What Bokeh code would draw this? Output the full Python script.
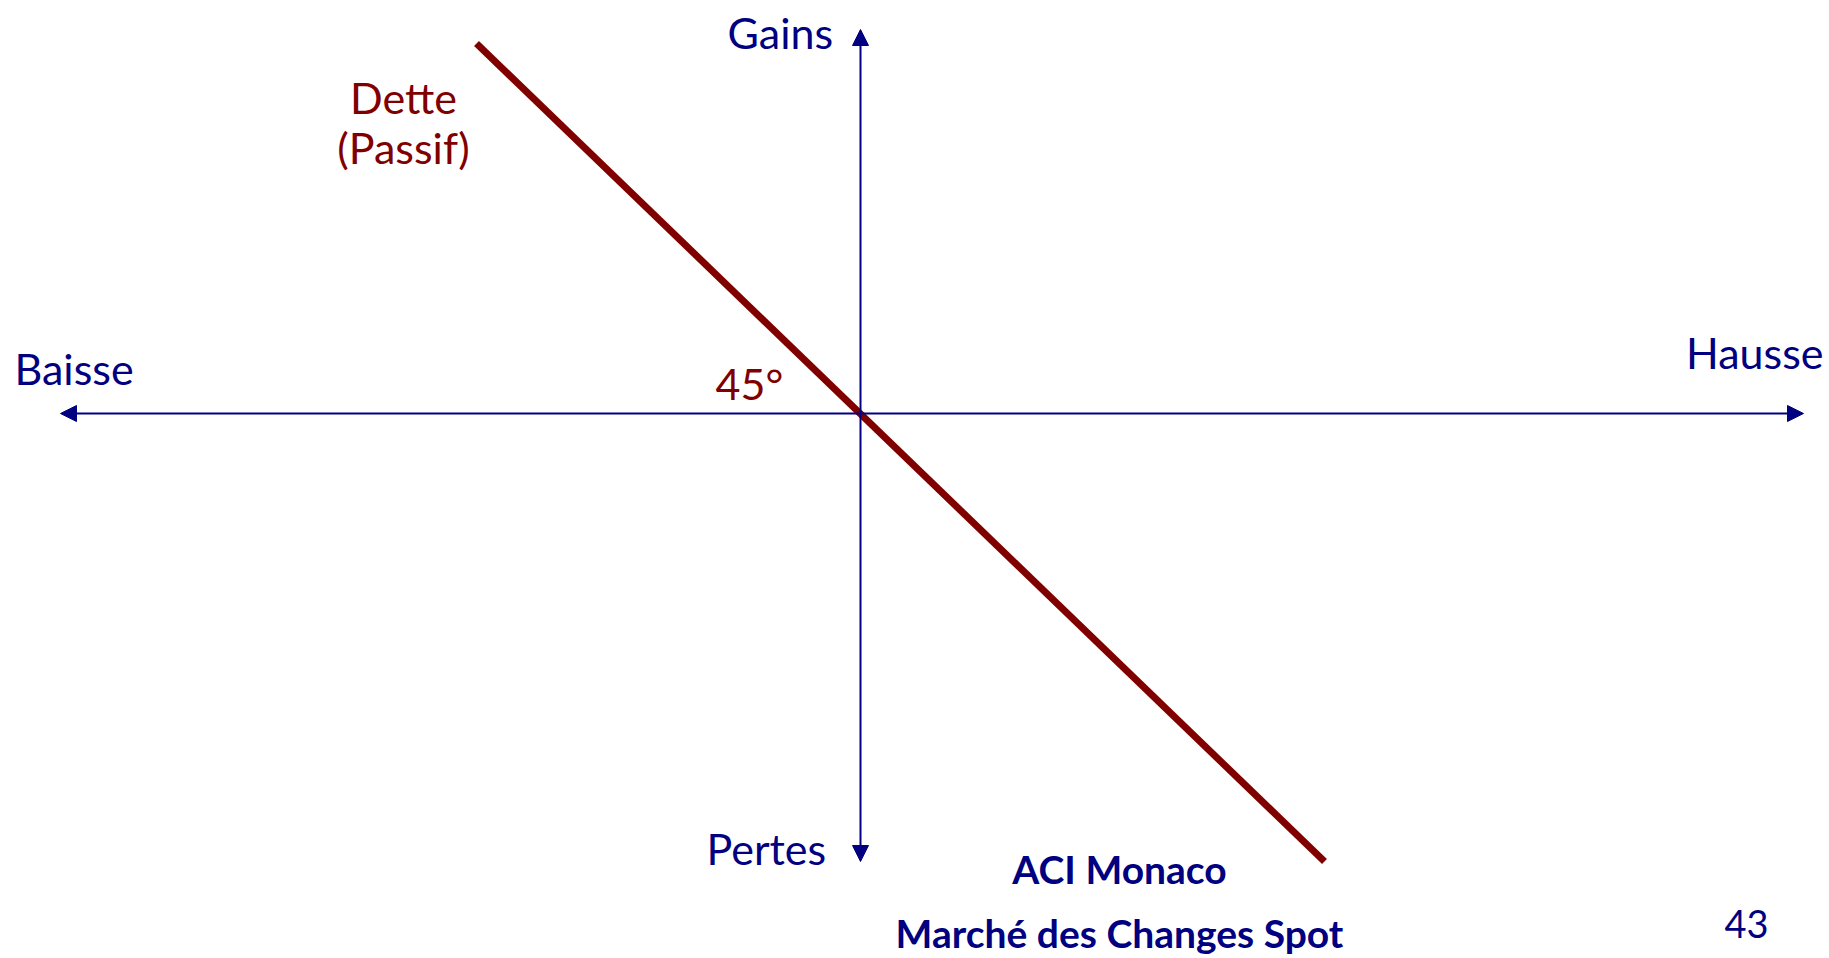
from bokeh.plotting import figure
from bokeh.models import Range1d, Arrow, NormalHead
from bokeh.core.properties import value
from bokeh.embed import file_html
from bokeh.resources import INLINE

# Payoff of a debt (liability): 45-degree line through the origin
payoff_x = [-384, 464]
payoff_y = [370, -448]

axis_labels = ["Gains", "Pertes", "Baisse", "Hausse"]
curve_label = ["Dette", "(Passif)"]
angle_label = "45°"
footer = ["ACI Monaco", "Marché des Changes Spot"]
page_number = "43"

NAVY = "#000080"
RED = "#800000"
FONT = "Lato"
DY = 15  # baseline correction

p = figure(width=1829, height=958, output_backend="svg", toolbar_location=None,
           x_range=Range1d(-860, 969), y_range=Range1d(-545, 413),
           min_border=0, background_fill_color="white", border_fill_color="white")
p.axis.visible = False
p.grid.visible = False
p.outline_line_color = None

# axes with arrows
p.add_layout(Arrow(start=NormalHead(size=16, fill_color=NAVY, line_color=NAVY),
                   end=NormalHead(size=16, fill_color=NAVY, line_color=NAVY),
                   x_start=-800, y_start=0, x_end=943, y_end=0,
                   line_color=NAVY, line_width=2))
p.add_layout(Arrow(start=NormalHead(size=16, fill_color=NAVY, line_color=NAVY),
                   end=NormalHead(size=16, fill_color=NAVY, line_color=NAVY),
                   x_start=0, y_start=-448, x_end=0, y_end=384,
                   line_color=NAVY, line_width=2))

# payoff line
p.line(payoff_x, payoff_y, line_color=RED, line_width=7)

fs = "43px"
# axis labels
p.text(x=[-133], y=[366 + DY], text=[axis_labels[0]], text_font=value(FONT), text_font_size=fs,
       text_color=NAVY, text_align="left", text_baseline="alphabetic")
p.text(x=[-154], y=[-450 + DY], text=[axis_labels[1]], text_font=value(FONT), text_font_size=fs,
       text_color=NAVY, text_align="left", text_baseline="alphabetic")
p.text(x=[-846], y=[30 + DY], text=[axis_labels[2]], text_font=value(FONT), text_font_size=fs,
       text_color=NAVY, text_align="left", text_baseline="alphabetic")
p.text(x=[963], y=[46 + DY], text=[axis_labels[3]], text_font=value(FONT), text_font_size=fs,
       text_color=NAVY, text_align="right", text_baseline="alphabetic")

# curve labels
p.text(x=[-457, -457], y=[301 + DY, 251 + DY], text=curve_label, text_font=value(FONT),
       text_font_size=fs, text_color=RED, text_align="center", text_baseline="alphabetic")
p.text(x=[-145], y=[15 + DY], text=[angle_label], text_font=value(FONT), text_font_size=fs,
       text_color=RED, text_align="left", text_baseline="alphabetic")

# footer
p.text(x=[259, 259], y=[-470 + DY, -534 + DY], text=footer, text_font=value(FONT),
       text_font_size="39px", text_font_style="bold", text_color=NAVY,
       text_align="center", text_baseline="alphabetic")
p.text(x=[864], y=[-525 + DY], text=[page_number], text_font=value(FONT), text_font_size="38px",
       text_color=NAVY, text_align="left", text_baseline="alphabetic")

open("out.html", "w").write(file_html(p, INLINE))
